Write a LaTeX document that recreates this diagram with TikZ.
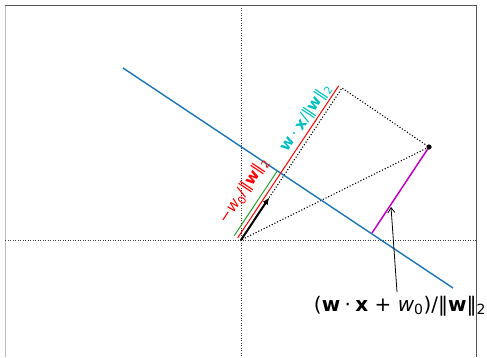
\documentclass[tikz,border=0pt]{standalone}
\usepackage{fontspec}
\setmainfont{DejaVu Sans}
\usetikzlibrary{arrows.meta,calc}
\definecolor{mplblue}{HTML}{1F77B4}
\definecolor{mplred}{HTML}{FF0000}
\definecolor{mplgreen}{HTML}{2CA02C}
\definecolor{mplmag}{HTML}{BF00BF}
\definecolor{mplcyan}{HTML}{00BFBF}
\definecolor{framedark}{HTML}{555555}
\definecolor{framelight}{HTML}{BBBBBB}
\newcommand{\opsp}{\hspace{0.22em}}
\tikzset{
  axisdot/.style={line width=0.8bp, black!75, dash pattern=on 1bp off 1.5bp},
  projdot/.style={line width=1.1bp, black, dash pattern=on 1.1bp off 1.9bp},
  hyper/.style={line width=1.5bp, mplblue},
  wline/.style={line width=1bp, mplred},
  bline/.style={line width=1bp, mplgreen},
  dline/.style={line width=1.5bp, mplmag},
  warrow/.style={line width=2bp, black, -{Latex[length=7bp,width=6bp]}},
  annot/.style={line width=0.8bp, black, -{Straight Barb[length=5bp,width=7bp]}},
  lbl/.style={font=\fontsize{15.5bp}{18bp}\selectfont, rotate=56.4, inner sep=0pt},
  biglbl/.style={font=\fontsize{20bp}{24bp}\selectfont, inner sep=0pt}
}
\begin{document}
\begin{tikzpicture}[x=1bp,y=-1bp]
\useasboundingbox (0,0) rectangle (487,357);
% frame
\draw[framelight, line width=1bp] (5,357) -- (5,5);
\draw[framedark, line width=1bp] (5,5) -- (476,5) -- (476,357);
% axes
\draw[axisdot] (5,240) -- (476,240);
\draw[axisdot] (241,5) -- (241,357);
% points
\coordinate (O) at (241,240);
\coordinate (P) at (342,88);
\coordinate (X) at (429,147);
\coordinate (F) at (372,233);
\coordinate (W) at (269.2,197.5);
\coordinate (H1) at (123,68);
\coordinate (H2) at (453,288);
\coordinate (G1) at (234.3,235.6);
\coordinate (G2) at (277.5,170.6);
\coordinate (R1) at (237.7,237.8);
\coordinate (R2) at (338.7,85.8);
\coordinate (T) at (391,207);
% projection lines
\draw[projdot] (O) -- (P) -- (X) -- (O);
% hyperplane
\draw[hyper] (H1) -- (H2);
% red & green
\draw[wline] (R1) -- (R2);
\draw[bline] (G1) -- (G2);
% distance
\draw[dline] (X) -- (F);
% w arrow
\draw[warrow] (O) -- (W);
% point
\fill (X) circle (2.6bp);
% labels
\node[lbl, text=mplred] (lr) at (244,191) {−\textit{w}\textsubscript{0}/‖\textbf{w}‖\textsubscript{2}};
\node[lbl, text=mplcyan] (lc) at (306,118) {\textbf{w}\opsp·\opsp\textbf{x}/‖\textbf{w}‖\textsubscript{2}};
\node[biglbl] (eq) at (400,306) {(\textbf{w}\opsp·\opsp\textbf{x} + \textit{w}\textsubscript{0})/‖\textbf{w}‖\textsubscript{2}};
\draw[annot] (397,292) -- (T);
\end{tikzpicture}
\end{document}
